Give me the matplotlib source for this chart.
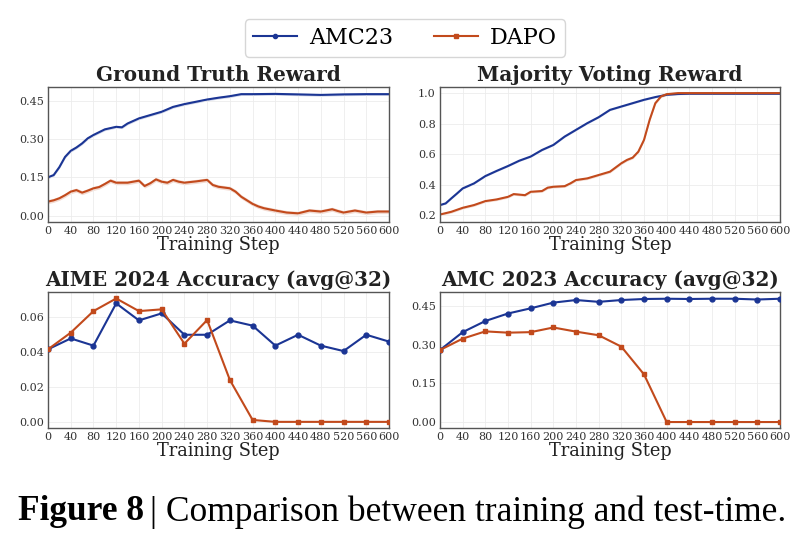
import numpy as np
import matplotlib
matplotlib.use("Agg")
import matplotlib.pyplot as plt
from matplotlib.lines import Line2D

plt.rcParams['font.family'] = 'DejaVu Serif'

# ---- data ----
# training curves (sampled every ~10-20 steps)
gt_steps_amc = [0, 10, 20, 30, 40, 50, 60, 70, 80, 100, 120, 130, 140, 160, 180, 200, 220, 240, 260,
                280, 300, 320, 340, 360, 400, 440, 480, 520, 560, 600]
gt_amc = [0.150, 0.159, 0.190, 0.230, 0.254, 0.267, 0.283, 0.303, 0.316, 0.338, 0.348, 0.346, 0.361,
          0.381, 0.394, 0.407, 0.426, 0.437, 0.446, 0.455, 0.462, 0.468, 0.476, 0.476, 0.477, 0.475,
          0.473, 0.475, 0.476, 0.476]
gt_steps_dapo = [0, 10, 20, 30, 40, 50, 60, 70, 80, 90, 100, 110, 120, 140, 160, 170, 180, 190, 200,
                 210, 220, 230, 240, 260, 280, 290, 300, 310, 320, 330, 340, 350, 360, 370, 380, 400,
                 420, 440, 460, 480, 500, 510, 520, 540, 560, 580, 600]
gt_dapo = [0.055, 0.060, 0.068, 0.080, 0.094, 0.100, 0.090, 0.098, 0.107, 0.112, 0.124, 0.137, 0.129,
           0.129, 0.137, 0.116, 0.127, 0.142, 0.133, 0.129, 0.140, 0.133, 0.129, 0.134, 0.140, 0.120,
           0.113, 0.110, 0.107, 0.094, 0.074, 0.060, 0.046, 0.036, 0.029, 0.020, 0.012, 0.009, 0.020,
           0.016, 0.025, 0.018, 0.012, 0.020, 0.012, 0.016, 0.016]

mv_steps_amc = [0, 10, 20, 30, 40, 60, 80, 100, 120, 140, 160, 180, 200, 220, 240, 260, 280, 300, 320,
                340, 360, 380, 400, 420, 440, 500, 560, 600]
mv_amc = [0.266, 0.277, 0.310, 0.342, 0.375, 0.408, 0.456, 0.490, 0.522, 0.557, 0.584, 0.627, 0.660,
          0.715, 0.759, 0.803, 0.842, 0.890, 0.912, 0.934, 0.956, 0.974, 0.989, 0.994, 0.996, 0.996,
          0.996, 0.996]
mv_steps_dapo = [0, 20, 40, 60, 80, 100, 120, 130, 150, 160, 180, 190, 200, 220, 230, 240, 260, 280, 300,
                 320, 330, 340, 350, 360, 370, 380, 390, 400, 420, 500, 600]
mv_dapo = [0.204, 0.222, 0.248, 0.266, 0.292, 0.303, 0.320, 0.338, 0.331, 0.353, 0.358, 0.380, 0.386,
           0.390, 0.408, 0.430, 0.441, 0.463, 0.485, 0.540, 0.562, 0.577, 0.616, 0.693, 0.825, 0.934,
           0.978, 0.993, 1.000, 1.000, 1.000]

# test-time evaluation every 40 steps
eval_steps = [0, 40, 80, 120, 160, 200, 240, 280, 320, 360, 400, 440, 480, 520, 560, 600]
aime_amc = [0.0416, 0.0478, 0.0437, 0.0678, 0.0581, 0.0621, 0.0499, 0.0499, 0.0581, 0.0551, 0.0437,
            0.0499, 0.0437, 0.0406, 0.0499, 0.0460]
aime_dapo = [0.0416, 0.0511, 0.0634, 0.0706, 0.0634, 0.0644, 0.0448, 0.0583, 0.0241, 0.0013, 0.0002,
             0.0002, 0.0002, 0.0002, 0.0002, 0.0002]
amc_amc = [0.279, 0.348, 0.391, 0.420, 0.440, 0.462, 0.472, 0.465, 0.472, 0.476, 0.477, 0.476, 0.477,
           0.477, 0.474, 0.477]
amc_dapo = [0.279, 0.323, 0.351, 0.346, 0.348, 0.366, 0.350, 0.336, 0.292, 0.185, 0.001, 0.001, 0.001,
            0.001, 0.001, 0.001]

band_amc = 0.005
band_dapo = 0.008

xticks = list(range(0, 601, 40))
blue = '#1b3594'
orange = '#c24a1c'

fig = plt.figure(figsize=(8.09, 5.43), dpi=100)
W, H = 809, 543


def make_ax(x0, y0, x1, y1):
    return fig.add_axes([x0 / W, 1 - y1 / H, (x1 - x0) / W, (y1 - y0) / H])


def style(ax, title, ylim, yticks, fmt):
    ax.set_xlim(0, 600)
    ax.set_ylim(*ylim)
    ax.set_xticks(xticks)
    ax.set_yticks(yticks)
    ax.set_yticklabels([fmt.format(v) for v in yticks])
    ax.tick_params(labelsize=8, length=0, pad=3, colors='#333333')
    ax.grid(True, color='#ececec', linewidth=0.6)
    for s in ax.spines.values():
        s.set_color('#555555')
        s.set_linewidth(1.0)
    ax.set_title(title, fontsize=14.4, fontweight='bold', pad=4, color='#222222')
    ax.set_xlabel('Training Step', fontsize=12.8, labelpad=0, color='#222222')


ax1 = make_ax(48, 87, 389, 222)
ax2 = make_ax(440, 87, 780, 222)
ax3 = make_ax(48, 292, 389, 428)
ax4 = make_ax(440, 292, 780, 428)

# training rewards with a thin band
for ax, sa, va, sd, vd in [(ax1, gt_steps_amc, gt_amc, gt_steps_dapo, gt_dapo),
                           (ax2, mv_steps_amc, mv_amc, mv_steps_dapo, mv_dapo)]:
    va = np.array(va)
    vd = np.array(vd)
    ax.fill_between(sa, va - band_amc, va + band_amc, color=blue, alpha=0.2, linewidth=0)
    ax.fill_between(sd, vd - band_dapo, vd + band_dapo, color=orange, alpha=0.2, linewidth=0)
    ax.plot(sa, va, color=blue, linewidth=1.5)
    ax.plot(sd, vd, color=orange, linewidth=1.5)

for ax, va, vd in [(ax3, aime_amc, aime_dapo), (ax4, amc_amc, amc_dapo)]:
    ax.plot(eval_steps, va, color=blue, linewidth=1.5, marker='o', markersize=3.5, zorder=3)
    ax.plot(eval_steps, vd, color=orange, linewidth=1.5, marker='s', markersize=3.5, zorder=3)

style(ax1, 'Ground Truth Reward', (-0.025, 0.504), [0.0, 0.15, 0.30, 0.45], '{:.2f}')
style(ax2, 'Majority Voting Reward', (0.155, 1.04), [0.2, 0.4, 0.6, 0.8, 1.0], '{:.1f}')
style(ax3, 'AIME 2024 Accuracy (avg@32)', (-0.0033, 0.0743), [0.0, 0.02, 0.04, 0.06], '{:.2f}')
style(ax4, 'AMC 2023 Accuracy (avg@32)', (-0.022, 0.503), [0.0, 0.15, 0.30, 0.45], '{:.2f}')

handles = [Line2D([], [], color=blue, linewidth=1.5, marker='o', markersize=3),
           Line2D([], [], color=orange, linewidth=1.5, marker='s', markersize=3)]
fig.legend(handles, ['AMC23', 'DAPO'], loc='center', bbox_to_anchor=(405 / W, 1 - 38 / H),
           ncol=2, fontsize=16, frameon=True, edgecolor='#cccccc', fancybox=True,
           handlelength=2.0, handletextpad=0.55, columnspacing=1.8, borderpad=0.35)

# caption
t1 = fig.text(18 / W, 1 - 512 / H, 'Figure 8', fontsize=25.5, fontweight='bold',
              family='Liberation Serif', va='center', ha='left')
fig.canvas.draw()
bb = t1.get_window_extent()
fig.text(bb.x1 / W + 0.008, 1 - 512 / H, '| Comparison between training and test-time.',
         fontsize=25.5, family='Liberation Serif', va='center', ha='left')

fig.savefig('out.png', dpi=100)
